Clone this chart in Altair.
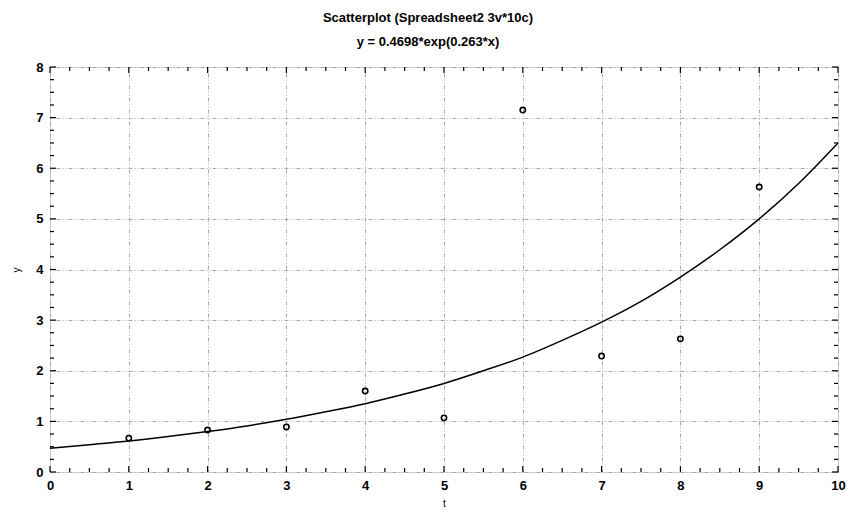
import altair as alt
import pandas as pd

# observed data points
t_vals = [1, 2, 3, 4, 5, 6, 7, 8, 9]
y_vals = [0.67, 0.83, 0.89, 1.60, 1.07, 7.15, 2.29, 2.63, 5.63]

# fitted curve
curve_t = [0, 0.5, 1, 1.5, 2, 2.5, 3, 3.5, 4, 4.5, 5, 5.5, 6, 6.5, 7, 7.5, 8, 8.5, 9, 9.5, 10]
curve_y = [0.47, 0.54, 0.61, 0.70, 0.80, 0.91, 1.04, 1.19, 1.35, 1.54, 1.75, 2.00, 2.27,
           2.60, 2.96, 3.37, 3.85, 4.39, 5.00, 5.70, 6.50]

# axis tick values
x_major = list(range(0, 11))
y_major = list(range(0, 9))
x_minor = [i * 0.25 for i in range(0, 41) if i % 4 != 0]
y_minor = [i * 0.25 for i in range(0, 33) if i % 4 != 0]

title_lines = ["Scatterplot (Spreadsheet2 3v*10c)", "y = 0.4698*exp(0.263*x)"]

W, H = 788, 405
FONT = "Liberation Sans"

pts = pd.DataFrame({"t": t_vals, "y": y_vals})
crv = pd.DataFrame({"t": curve_t, "y": curve_y})
xmin = pd.DataFrame({"v": x_minor})
ymin = pd.DataFrame({"v": y_minor})
xmaj = pd.DataFrame({"v": x_major})
ymaj = pd.DataFrame({"v": y_major})

xscale = alt.Scale(domain=[0, 10], nice=False, zero=False)
yscale = alt.Scale(domain=[0, 8], nice=False, zero=False)

grid_dash = [1, 2, 1, 2, 4, 2]

xaxis = alt.Axis(values=x_major, format="d", title="t", labelFont=FONT, labelFontSize=13,
                 labelFontWeight="bold", labelColor="black", labelPadding=7,
                 ticks=False, domain=False, grid=True, gridColor="#a8a8a8",
                 gridDash=grid_dash, gridWidth=1, titleFont=FONT, titleFontSize=10,
                 titleFontWeight="normal", titleColor="black", titlePadding=6,
                 labelFlush=False)
yaxis = alt.Axis(values=y_major, format="d", title="y", labelFont=FONT, labelFontSize=13,
                 labelFontWeight="bold", labelColor="black", labelPadding=7,
                 ticks=False, domain=False, grid=True, gridColor="#a8a8a8",
                 gridDash=grid_dash, gridWidth=1, titleFont=FONT, titleFontSize=10,
                 titleFontWeight="normal", titleColor="black", titlePadding=14,
                 labelFlush=False)

points = alt.Chart(pts).mark_point(shape="circle", filled=False, color="black",
                                   size=28, strokeWidth=1.6, opacity=1).encode(
    x=alt.X("t:Q", scale=xscale, axis=xaxis),
    y=alt.Y("y:Q", scale=yscale, axis=yaxis),
)

line = alt.Chart(crv).mark_line(color="black", strokeWidth=1.5, interpolate="monotone").encode(
    x=alt.X("t:Q", scale=xscale),
    y=alt.Y("y:Q", scale=yscale),
)

def xticks(df, length):
    bottom = alt.Chart(df).mark_rule(color="black", strokeWidth=1.2).encode(
        x=alt.X("v:Q", scale=xscale), y=alt.value(H), y2=alt.value(H - length))
    top = alt.Chart(df).mark_rule(color="black", strokeWidth=1.2).encode(
        x=alt.X("v:Q", scale=xscale), y=alt.value(0), y2=alt.value(length))
    return [bottom, top]

def yticks(df, length):
    left = alt.Chart(df).mark_rule(color="black", strokeWidth=1.2).encode(
        y=alt.Y("v:Q", scale=yscale), x=alt.value(0), x2=alt.value(length))
    right = alt.Chart(df).mark_rule(color="black", strokeWidth=1.2).encode(
        y=alt.Y("v:Q", scale=yscale), x=alt.value(W), x2=alt.value(W - length))
    return [left, right]

layers = [points, line] + xticks(xmin, 4) + xticks(xmaj, 6) + yticks(ymin, 4) + yticks(ymaj, 6)

chart = alt.layer(*layers).properties(
    width=W, height=H,
    title=alt.TitleParams(text=title_lines, font=FONT, fontSize=13, fontWeight="bold",
                          color="black", anchor="middle", offset=12, lineHeight=24, dx=-16),
    autosize=alt.AutoSizeParams(type="none"),
    padding={"left": 42, "top": 59, "right": 12, "bottom": 36},
).configure_view(stroke="black", strokeWidth=1.5).configure(background="white")

chart.save("out.html", embed_options={"renderer": "svg", "actions": False})
